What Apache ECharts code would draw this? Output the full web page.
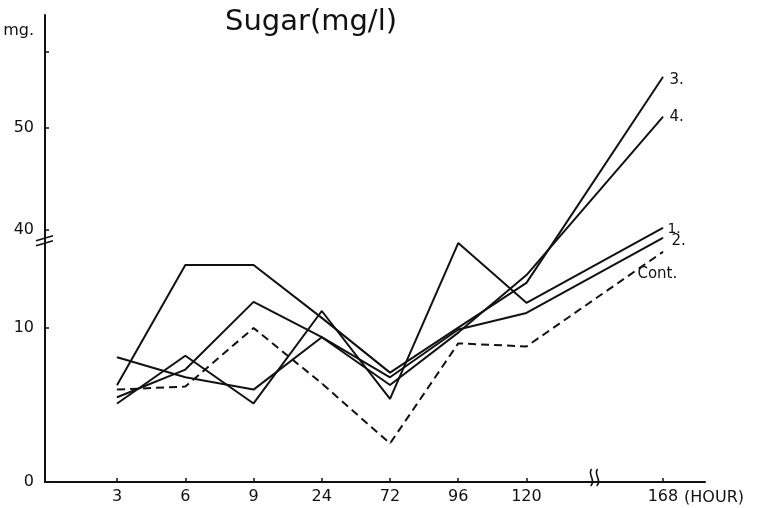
<!DOCTYPE html>
<html><head><meta charset="utf-8">
<script src="https://cdn.jsdelivr.net/npm/echarts@6/dist/echarts.min.js"></script>
<style>html,body{margin:0;padding:0;background:#fff}#c{width:758px;height:508px}</style>
</head><body><div id="c"></div>
<script>
// x categories (hours); the empty slot is the broken part of the axis
const hours = ['3', '6', '9', '24', '72', '96', '120', '', '168'];
// sugar (mg/l)
const sugar1 = [5.1, 8.2, 5.1, 15.2, 5.4, 36.0, 17.7, null, 40.2];
const sugar2 = [8.1, 6.8, 6.0, 9.4, 6.8, 9.9, 14.6, null, 37.6];
const sugar3 = [6.3, 29.3, 29.3, 13.1, 7.1, 10.1, 23.8, null, 55.0];
const sugar4 = [5.5, 7.3, 18.0, 9.4, 6.3, 9.7, 26.2, null, 51.1];
const sugarCont = [6.0, 6.2, 10.0, 6.4, 2.5, 9.0, 8.8, null, 33.3];
const seriesNames = ['1.', '2.', '3.', '4.', 'Cont.'];
// y tick labels
const yTickValues = [0, 10, 40, 50];
const yTickLabels = ['0', '10', '40', '50'];
const yExtraTicks = [57.5];

// broken y scale of the original figure: [from, to, relative scale]
const ySegments = [[0, 10, 1], [10, 40, 0.212], [40, 1000, 0.662]];
function toAxis(v) {
  let d = 0;
  for (const [a, b, k] of ySegments) {
    if (v <= a) break;
    d += (Math.min(v, b) - a) * k;
  }
  return d;
}
function toPairs(arr) {
  const out = [];
  arr.forEach((v, i) => { if (v != null) out.push([i, toAxis(v)]); });
  return out;
}
const ink = '#111';
const font = 'DejaVu Sans';
const labelOffsets = {'1.': [0, 1], '2.': [4, 3], '3.': [2, 3], '4.': [2, 0], 'Cont.': [-30, 22]};

function makeSeries(name, arr, dashed) {
  const pts = toPairs(arr);
  const data = pts.map((p, j) => {
    if (j === pts.length - 1) {
      return {value: p, label: {show: true, formatter: name, position: 'right', distance: 4,
        offset: labelOffsets[name], color: ink, fontFamily: font, fontSize: name === '1.' ? 14 : 15}};
    }
    return {value: p};
  });
  return {
    type: 'line', name, data, symbol: 'circle', symbolSize: 1, showSymbol: true,
    itemStyle: {color: ink}, silent: true, animation: false,
    lineStyle: {color: ink, width: 2, type: dashed ? [8, 5] : 'solid'}
  };
}

const chart = echarts.init(document.getElementById('c'), null, {renderer: 'canvas'});
const catIdx = hours.map((h, i) => i).filter(i => hours[i] !== '');
chart.setOption({
  backgroundColor: '#fff',
  animation: false,
  title: {text: 'Sugar(mg/l)', left: 220, top: 3,
    textStyle: {fontFamily: font, fontSize: 29, fontWeight: 'normal', color: ink}},
  grid: {left: 45, right: 53, top: 15, bottom: 26, containLabel: false},
  xAxis: {
    type: 'value', min: -1.057, max: 8.617,
    name: '(HOUR)', nameLocation: 'end', nameGap: -31,
    nameTextStyle: {fontFamily: font, fontSize: 16, color: ink, verticalAlign: 'top', padding: [8, 0, 0, 0]},
    axisLine: {onZero: false, lineStyle: {color: ink, width: 2}},
    axisTick: {inside: true, length: 4, customValues: catIdx, lineStyle: {color: ink, width: 1.5}},
    axisLabel: {customValues: catIdx, formatter: v => hours[Math.round(v)], margin: 7,
      fontFamily: font, fontSize: 16, color: ink},
    splitLine: {show: false}
  },
  yAxis: {
    type: 'value', min: 0, max: 30.32,
    name: 'mg.', nameLocation: 'end', nameGap: -16,
    nameTextStyle: {fontFamily: font, fontSize: 16, color: ink, align: 'right', verticalAlign: 'middle', padding: [0, 11, 0, 0]},
    axisLine: {onZero: false, lineStyle: {color: ink, width: 2}},
    axisTick: {inside: true, length: 4, customValues: yTickValues.concat(yExtraTicks).map(toAxis), lineStyle: {color: ink, width: 1.5}},
    axisLabel: {customValues: yTickValues.map(toAxis), margin: 11, fontFamily: font, fontSize: 16, color: ink,
      formatter: v => {
        let best = 0;
        yTickValues.forEach((t, i) => { if (Math.abs(toAxis(t) - v) < Math.abs(toAxis(yTickValues[best]) - v)) best = i; });
        return yTickLabels[best];
      }},
    splitLine: {show: false}
  },
  series: [
    makeSeries('1.', sugar1, false),
    makeSeries('2.', sugar2, false),
    makeSeries('3.', sugar3, false),
    makeSeries('4.', sugar4, false),
    makeSeries('Cont.', sugarCont, true)
  ]
});

// break marks on both axes
const yb = chart.convertToPixel({yAxisIndex: 0}, toAxis(37));
const xb = chart.convertToPixel({xAxisIndex: 0}, 7);
const x0 = chart.convertToPixel({xAxisIndex: 0}, -1.057);
const y0 = chart.convertToPixel({yAxisIndex: 0}, 0);
const st = {stroke: ink, lineWidth: 1.6, fill: null};
chart.setOption({graphic: [
  {type: 'line', shape: {x1: x0 - 9, y1: yb + 1, x2: x0 + 8, y2: yb - 4}, style: st},
  {type: 'line', shape: {x1: x0 - 9, y1: yb + 6, x2: x0 + 8, y2: yb + 1}, style: st},
  {type: 'rect', shape: {x: xb - 6, y: y0 - 2, width: 12, height: 4}, style: {fill: '#fff'}},
  {type: 'bezierCurve', shape: {x1: xb - 3, y1: y0 - 13, x2: xb - 4, y2: y0 + 4, cpx1: xb - 8, cpy1: y0 - 8, cpx2: xb + 2, cpy2: y0 - 2}, style: st},
  {type: 'bezierCurve', shape: {x1: xb + 3, y1: y0 - 13, x2: xb + 2, y2: y0 + 4, cpx1: xb - 2, cpy1: y0 - 8, cpx2: xb + 8, cpy2: y0 - 2}, style: st}
]});
</script>
</body></html>
